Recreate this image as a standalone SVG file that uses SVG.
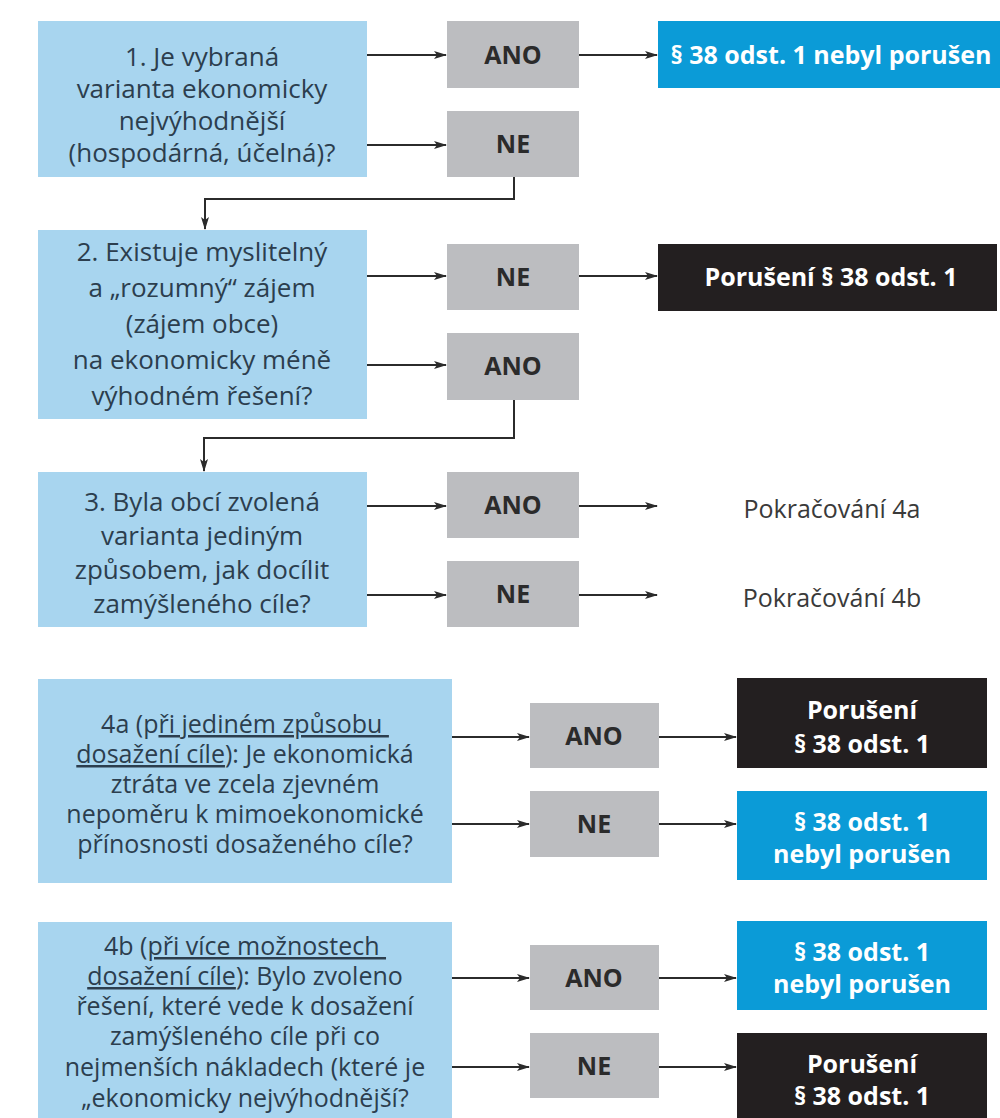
<svg xmlns="http://www.w3.org/2000/svg" width="1000" height="1118" viewBox="0 0 1000 1118">
<defs>
<marker id="ah" markerWidth="13" markerHeight="10" refX="12" refY="5" orient="auto" markerUnits="userSpaceOnUse">
<path d="M0,1 L13,5 L0,9 L3,5 Z" fill="#2b2b2b"/>
</marker>
<style>
.q{fill:#a8d5ef}
.g{fill:#bcbdc0}
.b{fill:#0b9bd7}
.k{fill:#231f20}
.qt{font-family:"Open Sans","Noto Sans",sans-serif;font-size:25px;fill:#2c3e4e;text-anchor:middle}
.qt1{font-size:26px}
.gt{font-family:"Open Sans","Noto Sans",sans-serif;font-size:25px;font-weight:bold;fill:#2b2b2b;text-anchor:middle}
.wt{font-family:"Open Sans","Noto Sans",sans-serif;font-size:25px;font-weight:bold;fill:#ffffff;text-anchor:middle}
.pt{font-family:"Open Sans","Noto Sans",sans-serif;font-size:25px;fill:#3a3a3a;text-anchor:middle}
.c{fill:none;stroke:#2b2b2b;stroke-width:2}
.u{text-decoration:underline}
</style>
</defs>
<rect width="1000" height="1118" fill="#ffffff"/>

<g id="q1"><rect class="q" x="38" y="21" width="329" height="156"/>
<text class="qt qt1"><tspan x="202" y="66">1. Je vybraná</tspan><tspan x="202" y="98">varianta ekonomicky</tspan><tspan x="202" y="130">nejvýhodnější</tspan><tspan x="202" y="162">(hospodárná, účelná)?</tspan></text></g>
<g id="ano1"><rect class="g" x="447" y="21" width="132" height="67"/><text class="gt" x="513" y="64">ANO</text></g>
<g id="ne1"><rect class="g" x="447" y="111" width="132" height="66"/><text class="gt" x="513" y="153">NE</text></g>
<g id="r1"><rect class="b" x="658" y="21" width="342" height="67"/><text class="wt" x="831" y="64">§ 38 odst. 1 nebyl porušen</text></g>

<g id="q2"><rect class="q" x="38" y="230" width="329" height="189"/>
<text class="qt qt1"><tspan x="202" y="261">2. Existuje myslitelný</tspan><tspan x="202" y="297">a „rozumný“ zájem</tspan><tspan x="202" y="333">(zájem obce)</tspan><tspan x="202" y="369">na ekonomicky méně</tspan><tspan x="202" y="405">výhodném řešení?</tspan></text></g>
<g id="ne2"><rect class="g" x="447" y="244" width="132" height="66"/><text class="gt" x="513" y="286">NE</text></g>
<g id="ano2"><rect class="g" x="447" y="333" width="132" height="67"/><text class="gt" x="513" y="375">ANO</text></g>
<g id="r2"><rect class="k" x="658" y="244" width="339" height="67"/><text class="wt" x="831" y="286">Porušení § 38 odst. 1</text></g>

<g id="q3"><rect class="q" x="38" y="472" width="329" height="155"/>
<text class="qt qt1"><tspan x="202" y="511">3. Byla obcí zvolená</tspan><tspan x="202" y="545">varianta jediným</tspan><tspan x="202" y="579">způsobem, jak docílit</tspan><tspan x="202" y="613">zamýšleného cíle?</tspan></text></g>
<g id="ano3"><rect class="g" x="447" y="472" width="132" height="66"/><text class="gt" x="513" y="514">ANO</text></g>
<g id="ne3"><rect class="g" x="447" y="561" width="132" height="66"/><text class="gt" x="513" y="603">NE</text></g>
<g id="p4a"><text class="pt" x="832" y="518">Pokračování 4a</text></g>
<g id="p4b"><text class="pt" x="832" y="607">Pokračování 4b</text></g>

<g id="q4a"><rect class="q" x="38" y="679" width="414" height="204"/>
<text class="qt"><tspan x="245" y="733">4a (p<tspan class="u">ři jediném způsobu </tspan></tspan><tspan x="245" y="763"><tspan class="u">dosažení cíle</tspan>): Je ekonomická</tspan><tspan x="245" y="793">ztráta ve zcela zjevném</tspan><tspan x="245" y="823">nepoměru k mimoekonomické</tspan><tspan x="245" y="853">přínosnosti dosaženého cíle?</tspan></text></g>
<g id="ano4a"><rect class="g" x="530" y="703" width="129" height="65"/><text class="gt" x="594" y="745">ANO</text></g>
<g id="ne4a"><rect class="g" x="530" y="791" width="129" height="66"/><text class="gt" x="594" y="833">NE</text></g>
<g id="r4a1"><rect class="k" x="737" y="678" width="250" height="90"/><text class="wt"><tspan x="862" y="719">Porušení</tspan><tspan x="862" y="753">§ 38 odst. 1</tspan></text></g>
<g id="r4a2"><rect class="b" x="737" y="791" width="250" height="89"/><text class="wt"><tspan x="862" y="831">§ 38 odst. 1</tspan><tspan x="862" y="863">nebyl porušen</tspan></text></g>

<g id="q4b"><rect class="q" x="38" y="922" width="414" height="200"/>
<text class="qt"><tspan x="245" y="955">4b (<tspan class="u">při více možnostech </tspan></tspan><tspan x="245" y="985"><tspan class="u">dosažení cíle</tspan>): Bylo zvoleno</tspan><tspan x="245" y="1015">řešení, které vede k dosažení</tspan><tspan x="245" y="1045">zamýšleného cíle při co</tspan><tspan x="245" y="1076">nejmenších nákladech (které je</tspan><tspan x="245" y="1107">„ekonomicky nejvýhodnější?</tspan></text></g>
<g id="ano4b"><rect class="g" x="530" y="945" width="129" height="65"/><text class="gt" x="594" y="987">ANO</text></g>
<g id="ne4b"><rect class="g" x="530" y="1033" width="129" height="65"/><text class="gt" x="594" y="1075">NE</text></g>
<g id="r4b1"><rect class="b" x="737" y="921" width="250" height="89"/><text class="wt"><tspan x="862" y="961">§ 38 odst. 1</tspan><tspan x="862" y="993">nebyl porušen</tspan></text></g>
<g id="r4b2"><rect class="k" x="737" y="1033" width="250" height="90"/><text class="wt"><tspan x="862" y="1073">Porušení</tspan><tspan x="862" y="1105">§ 38 odst. 1</tspan></text></g>

<g id="connectors">
<path class="c" d="M367 55 H446" marker-end="url(#ah)"/>
<path class="c" d="M367 145 H446" marker-end="url(#ah)"/>
<path class="c" d="M579 55 H657" marker-end="url(#ah)"/>
<path class="c" d="M514 177 V199 H205 V229" marker-end="url(#ah)"/>
<path class="c" d="M367 276 H446" marker-end="url(#ah)"/>
<path class="c" d="M367 365 H446" marker-end="url(#ah)"/>
<path class="c" d="M579 276 H657" marker-end="url(#ah)"/>
<path class="c" d="M514 400 V438 H204 V471" marker-end="url(#ah)"/>
<path class="c" d="M367 506 H446" marker-end="url(#ah)"/>
<path class="c" d="M367 595 H446" marker-end="url(#ah)"/>
<path class="c" d="M579 506 H657" marker-end="url(#ah)"/>
<path class="c" d="M579 595 H657" marker-end="url(#ah)"/>
<path class="c" d="M452 737 H529" marker-end="url(#ah)"/>
<path class="c" d="M452 824 H529" marker-end="url(#ah)"/>
<path class="c" d="M659 737 H736" marker-end="url(#ah)"/>
<path class="c" d="M659 824 H736" marker-end="url(#ah)"/>
<path class="c" d="M452 978 H529" marker-end="url(#ah)"/>
<path class="c" d="M452 1067 H529" marker-end="url(#ah)"/>
<path class="c" d="M659 978 H736" marker-end="url(#ah)"/>
<path class="c" d="M659 1067 H736" marker-end="url(#ah)"/>
</g>
</svg>
